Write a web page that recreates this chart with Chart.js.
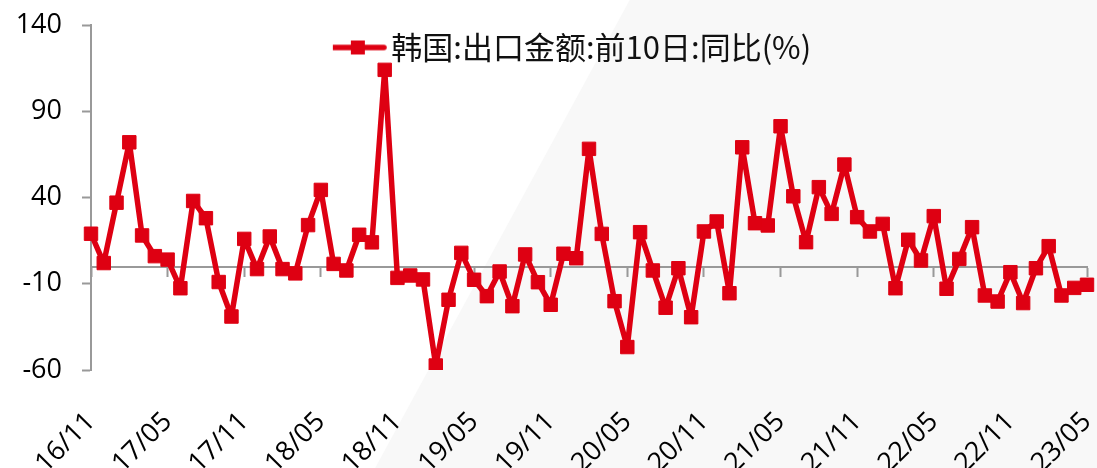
<!DOCTYPE html>
<html>
<head>
<meta charset="utf-8">
<script src="https://cdn.jsdelivr.net/npm/chart.js@4.4.0/dist/chart.umd.min.js"></script>
<style>
  html, body { margin: 0; padding: 0; background: #fff; }
  #wrap { width: 1097px; height: 468px; position: relative; }
</style>
</head>
<body>
<div id="wrap"><canvas id="exportChart"></canvas></div>
<script>
// monthly readings, 2016/11 .. 2023/05
const months = [
  '16/11', '16/12',
  '17/01', '17/02', '17/03', '17/04', '17/05', '17/06', '17/07', '17/08', '17/09', '17/10', '17/11', '17/12',
  '18/01', '18/02', '18/03', '18/04', '18/05', '18/06', '18/07', '18/08', '18/09', '18/10', '18/11', '18/12',
  '19/01', '19/02', '19/03', '19/04', '19/05', '19/06', '19/07', '19/08', '19/09', '19/10', '19/11', '19/12',
  '20/01', '20/02', '20/03', '20/04', '20/05', '20/06', '20/07', '20/08', '20/09', '20/10', '20/11', '20/12',
  '21/01', '21/02', '21/03', '21/04', '21/05', '21/06', '21/07', '21/08', '21/09', '21/10', '21/11', '21/12',
  '22/01', '22/02', '22/03', '22/04', '22/05', '22/06', '22/07', '22/08', '22/09', '22/10', '22/11', '22/12',
  '23/01', '23/02', '23/03', '23/04', '23/05'
];

const exportYoY = [
  19, 2,
  37, 72, 18, 6, 4, -12.6, 38, 28, -9, -29, 16, -1.5,
  17.4, -1.5, -4, 24, 44.4, 1.5, -2.3, 18.4, 14, 114, -6.6, -5.2,
  -7.5, -57.4, -19.3, 7.9, -7.7, -17.2, -2.9, -23, 7, -9.1, -22.2, 7.4,
  4.8, 68.2, 18.9, -20.1, -46.7, 19.9, -2.3, -23.9, -1, -29.4, 20.3, 26.1,
  -15.5, 69.1, 25.1, 23.8, 81.3, 40.7, 14.1, 46, 30.5, 59.1, 28.6, 20.3,
  24.7, -12.6, 15.5, 3.5, 29.2, -12.9, 4.4, 22.8, -16.8, -20.3, -3.3, -21.2,
  -1, 11.8, -16.8, -12.4, -10.6
];

const seriesName = '韩国:出口金额:前10日:同比(%)';
const yMin = -60;
const yMax = 140;
const yStep = 50;
const labelEvery = 6;

const RED = '#de0012';
const AXIS = '#999999';
const NUM_FONT = { family: 'Open Sans', size: 27 };

// line + square swatch for the legend
function legendMarker() {
  const c = document.createElement('canvas');
  c.width = 58;
  c.height = 16;
  const g = c.getContext('2d');
  g.strokeStyle = RED;
  g.lineWidth = 5.5;
  g.lineCap = 'round';
  g.beginPath();
  g.moveTo(3, 8);
  g.lineTo(55, 8);
  g.stroke();
  g.fillStyle = RED;
  g.fillRect(22, 1, 14, 14);
  return c;
}
const marker = legendMarker();

// pale diagonal panel behind the plot
const shadeBackground = {
  id: 'shadeBackground',
  beforeDraw(chart) {
    const { ctx, width, height } = chart;
    ctx.save();
    ctx.fillStyle = '#ffffff';
    ctx.fillRect(0, 0, width, height);
    ctx.fillStyle = '#f8f8f8';
    ctx.beginPath();
    ctx.moveTo(width * 0.574, 0);
    ctx.lineTo(width, 0);
    ctx.lineTo(width, height);
    ctx.lineTo(width * 0.342, height);
    ctx.closePath();
    ctx.fill();
    ctx.restore();
  }
};

// legend sits inside the plot, near the top, centred horizontally
const legendSpot = {
  id: 'legendSpot',
  afterLayout(chart) {
    const lg = chart.legend;
    if (!lg) return;
    const area = chart.chartArea;
    const w = lg.width;
    const h = lg.height;
    lg.left = (area.left + area.right) / 2 - w / 2 - 12;
    lg.right = lg.left + w;
    lg.top = area.top;
    lg.bottom = lg.top + h;
  }
};

new Chart(document.getElementById('exportChart'), {
  type: 'line',
  data: {
    labels: months,
    datasets: [{
      label: seriesName,
      data: exportYoY,
      borderColor: RED,
      backgroundColor: RED,
      borderWidth: 5.5,
      borderJoinStyle: 'round',
      borderCapStyle: 'round',
      tension: 0,
      pointStyle: 'rect',
      pointRadius: 9.5,
      pointBorderWidth: 1,
      pointBorderColor: RED,
      pointBackgroundColor: RED,
      xAxisID: 'x',
      yAxisID: 'y'
    }]
  },
  options: {
    responsive: true,
    maintainAspectRatio: false,
    animation: false,
    layout: { autoPadding: false, padding: { top: 25, right: 10, bottom: 0, left: 0 } },
    plugins: {
      tooltip: { enabled: false },
      legend: {
        position: 'chartArea',
        align: 'start',
        labels: {
          usePointStyle: true,
          pointStyleWidth: 36,
          padding: 7,
          color: '#111111',
          font: { family: 'Noto Sans CJK SC', size: 31 },
          generateLabels(chart) {
            const items = Chart.defaults.plugins.legend.labels.generateLabels(chart);
            items.forEach((it) => { it.pointStyle = marker; });
            return items;
          }
        }
      }
    },
    scales: {
      x: {
        type: 'category',
        position: 'bottom',
        offset: false,
        border: { display: false },
        grid: { display: false },
        ticks: {
          autoSkip: false,
          maxRotation: 45,
          minRotation: 45,
          padding: 28,
          color: '#000000',
          font: NUM_FONT,
          callback(value, index) {
            return index % labelEvery === 0 ? this.getLabelForValue(value) : '';
          }
        },
        afterFit(scale) {
          scale.height = 98;
          scale.paddingLeft = 0;
          scale.paddingRight = 0;
        }
      },
      // zero line with half-year tick marks
      x0: {
        type: 'category',
        axis: 'x',
        position: { y: 0 },
        offset: false,
        border: { display: true, color: AXIS, width: 2 },
        grid: {
          display: true,
          drawOnChartArea: false,
          drawTicks: true,
          tickLength: 9,
          tickWidth: 2,
          tickColor: (ctx) => (ctx.index % labelEvery === 0 ? AXIS : 'rgba(0,0,0,0)')
        },
        ticks: { display: false },
        afterFit(scale) {
          scale.height = 0;
        }
      },
      y: {
        type: 'linear',
        position: 'left',
        min: yMin,
        max: yMax,
        border: { display: true, color: AXIS, width: 2 },
        grid: {
          drawOnChartArea: false,
          drawTicks: true,
          tickLength: 9,
          tickWidth: 2,
          tickColor: AXIS
        },
        ticks: {
          stepSize: yStep,
          padding: 20,
          color: '#000000',
          font: NUM_FONT
        },
        afterFit(scale) {
          scale.width = 91;
          scale.paddingTop = 0;
          scale.paddingBottom = 0;
        }
      }
    }
  },
  plugins: [shadeBackground, legendSpot]
});
</script>
</body>
</html>
